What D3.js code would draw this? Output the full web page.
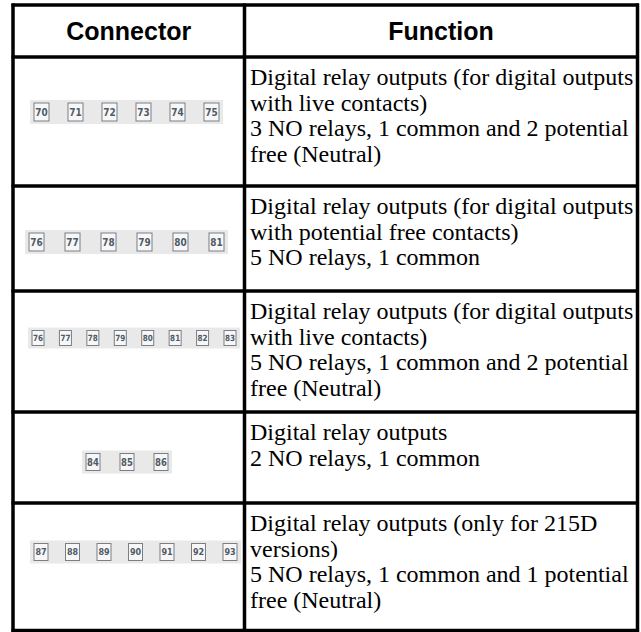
<!DOCTYPE html>
<html><head><meta charset="utf-8">
<script src="https://cdn.jsdelivr.net/npm/d3@7/dist/d3.min.js"></script>
<style>html,body{margin:0;padding:0;background:#fff;}</style>
</head><body>
<svg id="c" width="641" height="632"></svg>
<script>
// ---- data ----
const headers = ["Connector", "Function"];
const connectors = [
  ["70","71","72","73","74","75"],
  ["76","77","78","79","80","81"],
  ["76","77","78","79","80","81","82","83"],
  ["84","85","86"],
  ["87","88","89","90","91","92","93"]
];
const functionLines = [
  ["Digital relay outputs (for digital outputs", "with live contacts)", "3 NO relays, 1 common and 2 potential", "free (Neutral)"],
  ["Digital relay outputs (for digital outputs", "with potential free contacts)", "5 NO relays, 1 common"],
  ["Digital relay outputs (for digital outputs", "with live contacts)", "5 NO relays, 1 common and 2 potential", "free (Neutral)"],
  ["Digital relay outputs", "2 NO relays, 1 common"],
  ["Digital relay outputs (only for 215D", "versions)", "5 NO relays, 1 common and 1 potential", "free (Neutral)"]
];

// ---- layout ----
const rowEdges = [5, 57, 186, 291, 412, 503, 630.5];
const xLeft = 13, xDiv = 244.5, xRight = 637.5;
const strips = [
  {x0: 30, x1: 223, cy: 112, bw: 15, bh: 18, fs: 10.5},
  {x0: 25, x1: 228, cy: 242, bw: 15, bh: 18, fs: 10.5},
  {x0: 28, x1: 240, cy: 338, bw: 12, bh: 15, fs: 8.5},
  {x0: 82, x1: 172, cy: 462, bw: 14, bh: 17, fs: 10},
  {x0: 30, x1: 241, cy: 552, bw: 14, bh: 17, fs: 9.5}
];

const svg = d3.select("#c");
const yRow = i => rowEdges[i];

// header
svg.selectAll("text.h").data(headers).join("text")
  .attr("class","h")
  .attr("x", (d,i) => i === 0 ? (xLeft + xDiv)/2 : (xDiv + xRight)/2)
  .attr("y", 40)
  .attr("text-anchor","middle")
  .attr("font-family","'Liberation Sans', Arial, sans-serif")
  .attr("font-weight","bold")
  .attr("font-size", 25)
  .attr("fill","#000")
  .text(d => d);

// function text
const lineH = 25.5;
functionLines.forEach((lines, r) => {
  svg.append("g").selectAll("text").data(lines).join("text")
    .attr("x", 250)
    .attr("y", (d,i) => yRow(r+1) + 28 + i*lineH)
    .attr("font-family","'Liberation Serif', 'Times New Roman', serif")
    .attr("font-size", 24)
    .attr("fill","#000")
    .text(d => d);
});

// connector strips
connectors.forEach((nums, r) => {
  const s = strips[r];
  const g = svg.append("g");
  g.append("rect").attr("x", s.x0).attr("y", s.cy - s.bh/2 - 3)
    .attr("width", s.x1 - s.x0).attr("height", s.bh + 6).attr("fill", "#e9e9e9");
  const xs = d3.scalePoint().domain(nums).range([s.x0 + 4 + s.bw/2, s.x1 - 4 - s.bw/2]);
  const b = g.selectAll("g").data(nums).join("g")
    .attr("transform", d => `translate(${xs(d)},${s.cy})`);
  b.append("rect").attr("x", -s.bw/2).attr("y", -s.bh/2)
    .attr("width", s.bw).attr("height", s.bh)
    .attr("fill", "#f7f7f7").attr("stroke", "#7a7f85").attr("stroke-width", 1);
  b.append("text").attr("text-anchor","middle").attr("dy","0.35em")
    .attr("font-family","'DejaVu Sans', sans-serif").attr("font-weight","bold")
    .attr("font-size", s.fs).attr("fill","#4f5a66")
    .attr("transform","scale(0.85,1)")
    .text(d => d);
});

// grid lines
const lw = 3.5;
rowEdges.forEach((y, i) => {
  svg.append("line").attr("x1", xLeft - 1.5).attr("x2", xRight + 1.5)
    .attr("y1", y).attr("y2", y).attr("stroke","#000").attr("stroke-width", lw);
});
[xLeft, xDiv, xRight].forEach(x => {
  svg.append("line").attr("x1", x).attr("x2", x)
    .attr("y1", rowEdges[0] - 1.5).attr("y2", rowEdges[rowEdges.length-1] + 1.5)
    .attr("stroke","#000").attr("stroke-width", lw);
});
</script>
</body></html>
